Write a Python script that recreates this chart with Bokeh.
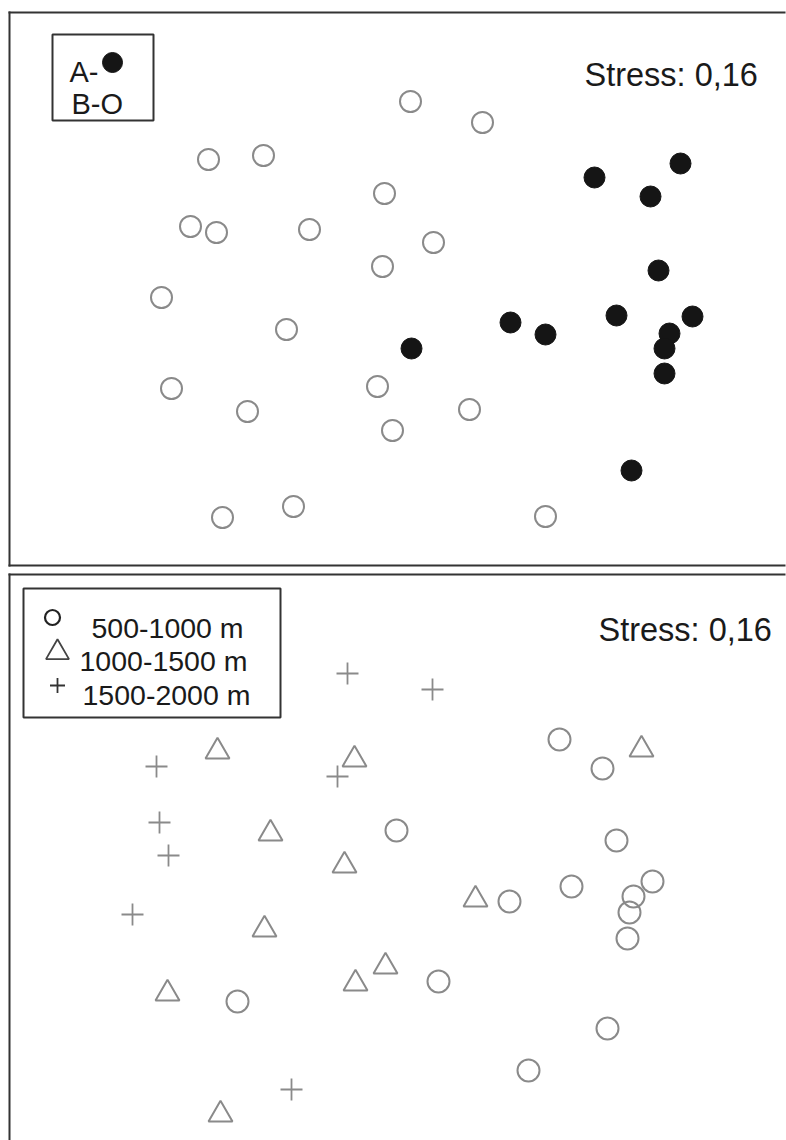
from bokeh.plotting import figure
from bokeh.models import Range1d, Label
from bokeh.layouts import column
from bokeh.embed import file_html
from bokeh.resources import INLINE

# ---- data: NMDS ordination scores (plot units; y axis runs downward) ----
# Panel 1: groups A (filled) and B (open)
a_x = [594, 680, 650, 658, 510, 545, 616, 692, 669, 664, 664, 411, 631]
a_y = [177, 163, 196, 270, 322, 334, 315, 316, 333, 348, 373, 348, 470]
b_x = [410, 482, 208, 263, 384, 190, 216, 309, 433, 382, 161, 286, 171, 247,
       377, 469, 392, 222, 293, 545]
b_y = [101, 122, 159, 155, 193, 226, 232, 229, 242, 266, 297, 329, 388, 411,
       386, 409, 430, 517, 506, 516]

# Panel 2: altitude classes
low_x = [559, 602, 396, 616, 571, 509, 652, 633, 629, 627, 438, 237, 607, 528]
low_y = [739, 768, 830, 840, 886, 901, 881, 896, 912, 938, 981, 1001, 1028, 1070]
mid_x = [217, 354, 641, 270, 344, 475, 264, 385, 355, 167, 220]
mid_y = [751, 759, 749, 833, 865, 899, 929, 966, 983, 993, 1114]
high_x = [347, 432, 156, 337, 159, 168, 132, 291]
high_y = [673, 689, 766, 776, 822, 855, 914, 1089]

group_labels = ["A-", "B-O"]
alt_labels = ["500-1000 m", "1000-1500 m", "1500-2000 m"]
stress_text = "Stress: 0,16"

FONT = "Liberation Sans"
TXT = "#1a1a1a"
MK = "#8a8a8a"
BORDER = "#333333"


def base(height, ystart, yend, top):
    p = figure(width=786, height=height, output_backend="svg", toolbar_location=None,
               x_range=Range1d(6, 786), y_range=Range1d(ystart, yend),
               x_axis_type=None, y_axis_type=None,
               min_border_left=6, min_border_right=0,
               min_border_top=top, min_border_bottom=0)
    p.grid.visible = False
    p.outline_line_color = None
    p.background_fill_color = "white"
    p.border_fill_color = "white"
    return p


# ---- top panel ----
p1 = base(569, 569, 9, 9)
# panel frame: top, left and bottom sides only (right side runs off the page)
p1.multi_line(xs=[[8, 785], [9, 9], [8, 785]], ys=[[12, 12], [11, 566], [565, 565]],
              line_color=BORDER, line_width=2, line_cap="butt")

p1.scatter(b_x, b_y, marker="circle", size=21, fill_color=None,
           line_color=MK, line_width=2)
p1.scatter(a_x, a_y, marker="circle", size=21, fill_color="#151515",
           line_color="#151515", line_width=1)

# legend box
p1.quad(left=[52], right=[153], top=[34], bottom=[120], fill_color=None,
        line_color=BORDER, line_width=2)
p1.add_layout(Label(x=69, y=71, text=group_labels[0], text_font=FONT,
                    text_font_size="29px", text_color=TXT, text_baseline="alphabetic"))
p1.scatter([112], [62], marker="circle", size=20, fill_color="#151515",
           line_color="#151515")
p1.add_layout(Label(x=71, y=103, text=group_labels[1], text_font=FONT,
                    text_font_size="29px", text_color=TXT, text_baseline="alphabetic"))
p1.add_layout(Label(x=584, y=74, text=stress_text, text_font=FONT,
                    text_font_size="32.5px", text_color=TXT, text_baseline="alphabetic"))

# ---- bottom panel ----
p2 = base(571, 1140, 571, 2)
p2.multi_line(xs=[[8, 785], [9, 9]], ys=[[574, 574], [573, 1140]],
              line_color=BORDER, line_width=2, line_cap="butt")

p2.scatter(low_x, low_y, marker="circle", size=22, fill_color=None,
           line_color=MK, line_width=2)
p2.scatter(mid_x, mid_y, marker="triangle", size=24, fill_color=None,
           line_color=MK, line_width=2)
p2.scatter(high_x, high_y, marker="cross", size=22, line_color=MK, line_width=1.8)

p2.quad(left=[23], right=[280], top=[588], bottom=[717], fill_color=None,
        line_color=BORDER, line_width=2)
p2.scatter([52], [617], marker="circle", size=15, fill_color=None,
           line_color="#222222", line_width=2.2)
p2.scatter([57], [652], marker="triangle", size=23, fill_color=None,
           line_color="#444444", line_width=1.8)
p2.scatter([57], [685], marker="cross", size=15, line_color="#333333", line_width=1.8)
for lx, ly, t in zip([91, 79, 82], [627, 660, 694], alt_labels):
    p2.add_layout(Label(x=lx, y=ly, text=t, text_font=FONT, text_font_size="28.5px",
                        text_color=TXT, text_baseline="alphabetic"))
p2.add_layout(Label(x=598, y=629, text=stress_text, text_font=FONT,
                    text_font_size="32.5px", text_color=TXT, text_baseline="alphabetic"))

layout = column(p1, p2, spacing=0)
open("out.html", "w").write(file_html(layout, INLINE))
